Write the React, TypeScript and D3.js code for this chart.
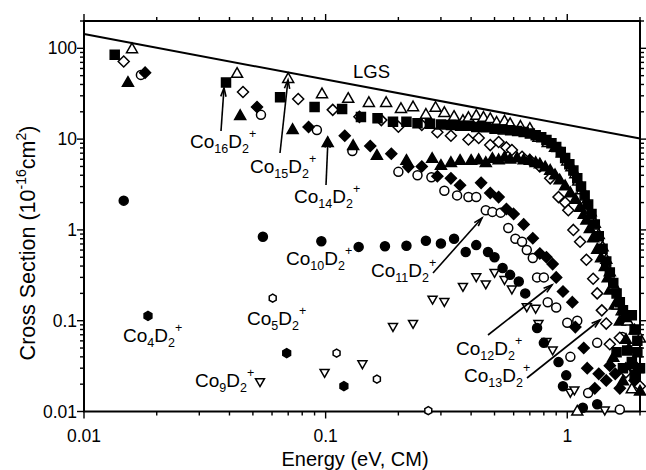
import React from 'react';
import * as d3 from 'd3';

// Plot frame (pixels)
const W = 646;
const H = 470;
const LEFT = 84;
const RIGHT = 640;
const TOP = 21;
const BOTTOM = 411.5;

const FONT = 'Liberation Sans, Arial, Helvetica, sans-serif';

// Axis domains and tick labels
const xDomain: [number, number] = [0.01, 2];
const yDomain: [number, number] = [0.01, 200];
const xMajor = [0.01, 0.1, 1];
const xMajorLabels = ['0.01', '0.1', '1'];
const yMajor = [0.01, 0.1, 1, 10, 100];
const yMajorLabels = ['0.01', '0.1', '1', '10', '100'];

// Langevin-Gioumousis-Stevenson limit (straight on log-log axes)
const lgsLine: [number, number][] = [[0.01, 143.5], [2, 10.15]];

// Cross sections, [energy (eV, CM), sigma (1e-16 cm^2)]
const co4: [number, number][] = [[0.0184, 0.113], [0.069, 0.044], [0.119, 0.019]];

const co5: [number, number][] = [[0.0604, 0.177], [0.111, 0.044], [0.163, 0.0227], [0.266, 0.0102]];

const co9: [number, number][] = [
  [0.0535, 0.021], [0.099, 0.0265], [0.142, 0.033], [0.19, 0.085], [0.23, 0.092],
  [0.277, 0.17], [0.31, 0.16], [0.37, 0.235], [0.42, 0.3], [0.46, 0.25], [0.5, 0.335],
  [0.55, 0.28], [0.59, 0.22], [0.68, 0.14], [0.74, 0.135], [0.76, 0.092], [0.82, 0.058],
  [0.87, 0.047], [1.03, 0.016], [1.07, 0.017], [1.43, 0.0102],
];

const co10: [number, number][] = [
  [0.0146, 2.1], [0.055, 0.84], [0.096, 0.75], [0.137, 0.65], [0.176, 0.66], [0.216, 0.67],
  [0.26, 0.76], [0.3, 0.71], [0.34, 0.8], [0.38, 0.57], [0.42, 0.68], [0.47, 0.57],
  [0.5, 0.5], [0.54, 0.38], [0.58, 0.32], [0.63, 0.27], [0.67, 0.2], [0.75, 0.083],
  [0.8, 0.057], [0.92, 0.035], [0.99, 0.025], [0.96, 0.019], [1.16, 0.011], [1.33, 0.012],
];

const co11: [number, number][] = [
  [0.0172, 51], [0.054, 18.5], [0.092, 12.6], [0.129, 7.4], [0.2, 4.36], [0.24, 4.0],
  [0.274, 3.8], [0.31, 2.7], [0.35, 2.4], [0.39, 2.3], [0.42, 2.3], [0.46, 1.65],
  [0.49, 1.58], [0.53, 1.55], [0.57, 1.05], [0.61, 0.8], [0.65, 0.74], [0.68, 0.6],
  [0.72, 0.49], [0.75, 0.3], [0.8, 0.3], [0.83, 0.16], [0.9, 0.14], [1.0, 0.095],
  [1.1, 0.1], [1.03, 0.04], [1.22, 0.016], [1.33, 0.057], [1.69, 0.066], [1.65, 0.0105],
];

const co12: [number, number][] = [
  [0.0179, 54], [0.052, 22.6], [0.085, 13.6], [0.12, 10.9], [0.153, 8.4], [0.187, 6.9],
  [0.22, 4.95], [0.25, 5.0], [0.29, 3.9], [0.33, 3.7], [0.36, 3.1], [0.44, 3.3],
  [0.48, 2.55], [0.52, 2.3], [0.56, 1.7], [0.6, 1.5], [0.66, 1.15], [0.72, 0.81],
  [0.77, 0.55], [0.82, 0.5], [0.87, 0.42], [0.9, 0.3], [0.96, 0.21], [1.05, 0.16],
  [1.08, 0.085], [1.17, 0.05], [1.21, 0.03], [1.3, 0.018], [1.35, 0.026], [1.45, 0.022],
  [1.5, 0.032], [1.58, 0.026], [1.65, 0.018], [1.75, 0.03], [1.9, 0.022],
];

const co13: [number, number][] = [
  [0.0146, 71.5], [0.0455, 33], [0.077, 27.7], [0.107, 21], [0.138, 17.6], [0.17, 16.2],
  [0.2, 13.7], [0.25, 14.3], [0.29, 11.9], [0.33, 10.9], [0.39, 9.9], [0.43, 10.3],
  [0.48, 8.6], [0.52, 9.3], [0.56, 8.1], [0.59, 7.6], [0.65, 6.4], [0.7, 5.9],
  [0.77, 5.0], [0.85, 3.7], [0.92, 2.3], [0.98, 2.0], [1.01, 1.65], [1.06, 1.0],
  [1.13, 0.74], [1.2, 0.47], [1.28, 0.29], [1.33, 0.2], [1.39, 0.13], [1.45, 0.093],
  [1.5, 0.055], [1.65, 0.065], [1.75, 0.027], [2.0, 0.019],
];

const co14: [number, number][] = [
  [0.0152, 42.7], [0.0443, 18.4], [0.073, 12.9], [0.102, 9.3], [0.13, 8.6], [0.163, 6.7],
  [0.216, 5.9], [0.276, 6.2], [0.3, 5.2], [0.33, 5.6], [0.36, 5.9], [0.4, 5.9],
  [0.43, 6.0], [0.46, 5.6], [0.49, 6.2], [0.52, 6.0], [0.55, 6.4], [0.58, 6.1],
  [0.62, 6.3], [0.66, 6.0], [0.7, 5.9], [0.74, 5.6], [0.77, 5.4], [0.81, 5.0],
  [0.85, 4.6], [0.89, 4.1], [0.93, 3.6], [0.98, 3.1], [1.03, 2.6], [1.08, 2.2],
  [1.13, 1.8], [1.17, 1.5], [1.2, 1.3], [1.24, 1.05], [1.28, 0.83], [1.33, 0.62],
  [1.38, 0.5], [1.43, 0.4], [1.47, 0.3], [1.5, 0.22], [1.57, 0.15], [1.65, 0.1],
  [1.75, 0.063], [1.85, 0.033], [2.0, 0.017], [1.55, 0.04], [1.7, 0.022], [1.8, 0.05],
  [1.95, 0.03],
];

const co15: [number, number][] = [
  [0.0158, 100], [0.043, 53.6], [0.07, 47], [0.0966, 32], [0.124, 28.4], [0.151, 25.6],
  [0.178, 25.6], [0.205, 22], [0.23, 23], [0.26, 19], [0.285, 22.6], [0.31, 19.9],
  [0.34, 18], [0.37, 16.2], [0.39, 17.5], [0.42, 18.5], [0.45, 17.6], [0.48, 17],
  [0.51, 15.5], [0.55, 16], [0.58, 15], [0.64, 14], [0.7, 13.3], [0.76, 10.6],
  [0.83, 9.3], [0.89, 8.2], [0.95, 7.1], [1.0, 5.8], [1.04, 5.0], [1.08, 4.2],
  [1.11, 3.5], [1.15, 2.8], [1.2, 2.1], [1.25, 1.6], [1.3, 1.2], [1.35, 0.9],
  [1.4, 0.66], [1.45, 0.48], [1.5, 0.35], [1.56, 0.25], [1.62, 0.15], [1.68, 0.13],
  [1.78, 0.1], [1.9, 0.08], [2.0, 0.065], [1.85, 0.018], [1.1, 0.0102],
];

const co16: [number, number][] = [
  [0.0134, 85], [0.0387, 42], [0.0648, 29], [0.09, 22.6], [0.117, 21.5], [0.14, 17.5],
  [0.164, 17], [0.19, 15.5], [0.216, 15.5], [0.24, 15], [0.27, 14.8], [0.3, 14.5],
  [0.33, 14.3], [0.36, 14], [0.39, 14], [0.42, 13.6], [0.46, 13.5], [0.5, 13],
  [0.54, 12.8], [0.58, 12.5], [0.62, 12.3], [0.66, 12], [0.7, 11.5], [0.74, 11],
  [0.78, 10.5], [0.82, 9.8], [0.86, 9], [0.9, 8.2], [0.94, 7.2], [0.98, 6.2],
  [1.02, 5.3], [1.06, 4.5], [1.1, 3.7], [1.14, 3.0], [1.18, 2.4], [1.22, 1.9],
  [1.26, 1.5], [1.3, 1.15], [1.35, 0.85], [1.4, 0.62], [1.45, 0.45], [1.5, 0.34],
  [1.55, 0.26], [1.6, 0.2], [1.65, 0.16], [1.7, 0.13], [1.75, 0.11], [1.85, 0.115],
  [1.9, 0.08], [1.95, 0.06], [1.77, 0.047], [1.85, 0.035], [1.95, 0.045], [1.6, 0.045],
  [1.7, 0.03], [1.9, 0.025], [2.0, 0.03],
];

type Shape = 'square' | 'triangle' | 'triangleDown' | 'diamond' | 'circle' | 'hexagon';

interface Series {
  name: string;
  data: [number, number][];
  shape: Shape;
  filled: boolean;
  size: number;
}

const seriesList: Series[] = [
  { name: 'Co4', data: co4, shape: 'hexagon', filled: true, size: 9 },
  { name: 'Co5', data: co5, shape: 'hexagon', filled: false, size: 8 },
  { name: 'Co9', data: co9, shape: 'triangleDown', filled: false, size: 9 },
  { name: 'Co10', data: co10, shape: 'circle', filled: true, size: 9 },
  { name: 'Co11', data: co11, shape: 'circle', filled: false, size: 9 },
  { name: 'Co12', data: co12, shape: 'diamond', filled: true, size: 11 },
  { name: 'Co13', data: co13, shape: 'diamond', filled: false, size: 11 },
  { name: 'Co14', data: co14, shape: 'triangle', filled: true, size: 11 },
  { name: 'Co15', data: co15, shape: 'triangle', filled: false, size: 11 },
  { name: 'Co16', data: co16, shape: 'square', filled: true, size: 9 },
];

// Annotation labels: cluster size, text anchor and optional arrow (from, to)
const labels: { n: string; x: number; y: number; arrow?: [number, number, number, number] }[] = [
  { n: '16', x: 190, y: 148, arrow: [221, 131, 224, 88] },
  { n: '15', x: 250, y: 173, arrow: [280, 153, 288, 80] },
  { n: '14', x: 294, y: 203, arrow: [326, 185, 328, 139] },
  { n: '10', x: 286, y: 265 },
  { n: '11', x: 371, y: 277, arrow: [433, 273, 482, 218] },
  { n: '12', x: 456, y: 355, arrow: [488, 335, 552, 285] },
  { n: '13', x: 464, y: 382, arrow: [527, 378, 600, 320] },
  { n: '4', x: 123, y: 342 },
  { n: '5', x: 247, y: 325 },
  { n: '9', x: 195, y: 387 },
];

function markerPath(shape: Shape, s: number): string {
  const h = s / 2;
  switch (shape) {
    case 'square':
      return `M${-h},${-h}H${h}V${h}H${-h}Z`;
    case 'diamond':
      return `M0,${-h}L${h},0L0,${h}L${-h},0Z`;
    case 'triangle':
      return `M0,${-h * 0.95}L${h},${h * 0.8}L${-h},${h * 0.8}Z`;
    case 'triangleDown':
      return `M0,${h * 0.95}L${h},${-h * 0.8}L${-h},${-h * 0.8}Z`;
    case 'hexagon': {
      const pts = d3.range(6).map((i) => {
        const a = (Math.PI / 3) * i + Math.PI / 6;
        return [h * Math.cos(a), h * Math.sin(a)];
      });
      return 'M' + pts.map((p) => p.join(',')).join('L') + 'Z';
    }
    default:
      return d3.symbol(d3.symbolCircle, Math.PI * h * h)() as string;
  }
}

function CoLabel({ x, y, n }: { x: number; y: number; n: string }) {
  return (
    <text x={x} y={y} fontSize={19} fontFamily={FONT} fill="#000">
      Co
      <tspan fontSize={12.5} dy={5}>{n}</tspan>
      <tspan dy={-5}>D</tspan>
      <tspan fontSize={12.5} dy={5}>2</tspan>
      <tspan fontSize={12.5} dy={-15}>+</tspan>
    </text>
  );
}

function Arrow({ x1, y1, x2, y2 }: { x1: number; y1: number; x2: number; y2: number }) {
  const ang = Math.atan2(y2 - y1, x2 - x1);
  const len = 9;
  const spread = 0.3;
  const ax = x2 - len * Math.cos(ang - spread);
  const ay = y2 - len * Math.sin(ang - spread);
  const bx = x2 - len * Math.cos(ang + spread);
  const by = y2 - len * Math.sin(ang + spread);
  return (
    <g stroke="#000" strokeWidth={1.6} fill="none">
      <line x1={x1} y1={y1} x2={x2} y2={y2} />
      <path d={`M${ax},${ay}L${x2},${y2}L${bx},${by}`} strokeLinejoin="miter" />
    </g>
  );
}

export default function App() {
  const x = d3.scaleLog().domain(xDomain).range([LEFT, RIGHT]);
  const y = d3.scaleLog().domain(yDomain).range([BOTTOM, TOP]);

  const isMajor = (v: number) => Math.abs(Math.log10(v) - Math.round(Math.log10(v))) < 1e-6;
  const xTicks = x.ticks();
  const yTicks = y.ticks();

  const lgs = d3
    .line<[number, number]>()
    .x((d) => x(d[0]))
    .y((d) => y(d[1]))(lgsLine) as string;

  return (
    <svg
      width={W}
      height={H}
      viewBox={`0 0 ${W} ${H}`}
      style={{ position: 'absolute', left: 0, top: 0, background: '#fff' }}
    >
      <rect width={W} height={H} fill="#fff" />

      {/* ticks on all four sides, pointing outward */}
      <g stroke="#000" strokeWidth={1.4}>
        {xTicks.map((v, i) => {
          const len = isMajor(v) ? 7 : 4;
          const px = x(v);
          return (
            <g key={`xt${i}`}>
              <line x1={px} x2={px} y1={BOTTOM} y2={BOTTOM + len} />
              <line x1={px} x2={px} y1={TOP} y2={TOP - len} />
            </g>
          );
        })}
        {yTicks.map((v, i) => {
          const len = isMajor(v) ? 7 : 4;
          const py = y(v);
          return (
            <g key={`yt${i}`}>
              <line x1={LEFT} x2={LEFT - len} y1={py} y2={py} />
              <line x1={RIGHT} x2={RIGHT + len} y1={py} y2={py} />
            </g>
          );
        })}
      </g>

      {/* frame */}
      <rect
        x={LEFT}
        y={TOP}
        width={RIGHT - LEFT}
        height={BOTTOM - TOP}
        fill="none"
        stroke="#000"
        strokeWidth={2}
      />

      {/* tick labels */}
      <g fontFamily={FONT} fontSize={17.5} fill="#000">
        {xMajor.map((v, i) => (
          <text key={`xl${i}`} x={x(v)} y={442} textAnchor="middle">
            {xMajorLabels[i]}
          </text>
        ))}
        {yMajor.map((v, i) => (
          <text key={`yl${i}`} x={77} y={y(v) + 6} textAnchor="end">
            {yMajorLabels[i]}
          </text>
        ))}
      </g>

      {/* axis titles */}
      <text x={(LEFT + RIGHT) / 2 - 7} y={466} textAnchor="middle" fontFamily={FONT} fontSize={20}>
        Energy (eV, CM)
      </text>
      <text
        transform="translate(35,243) rotate(-90)"
        textAnchor="middle"
        fontFamily={FONT}
        fontSize={21.5}
      >
        Cross Section (10
        <tspan fontSize={14} dy={-9}>-16</tspan>
        <tspan dy={9}>cm</tspan>
        <tspan fontSize={14} dy={-9}>2</tspan>
        <tspan dy={9}>)</tspan>
      </text>

      {/* LGS limit */}
      <path d={lgs} fill="none" stroke="#000" strokeWidth={2} />
      <text x={353} y={78} fontFamily={FONT} fontSize={18.5}>
        LGS
      </text>

      {/* data */}
      {seriesList.map((s) => {
        const d = markerPath(s.shape, s.size);
        return (
          <g key={s.name}>
            {s.data.map((p, i) => (
              <path
                key={i}
                d={d}
                transform={`translate(${x(p[0])},${y(p[1])})`}
                fill={s.filled ? '#000' : '#fff'}
                stroke="#000"
                strokeWidth={1.5}
              />
            ))}
          </g>
        );
      })}

      {/* annotations */}
      {labels.map((l) => (
        <g key={l.n}>
          {l.arrow && <Arrow x1={l.arrow[0]} y1={l.arrow[1]} x2={l.arrow[2]} y2={l.arrow[3]} />}
          <CoLabel x={l.x} y={l.y} n={l.n} />
        </g>
      ))}
    </svg>
  );
}
